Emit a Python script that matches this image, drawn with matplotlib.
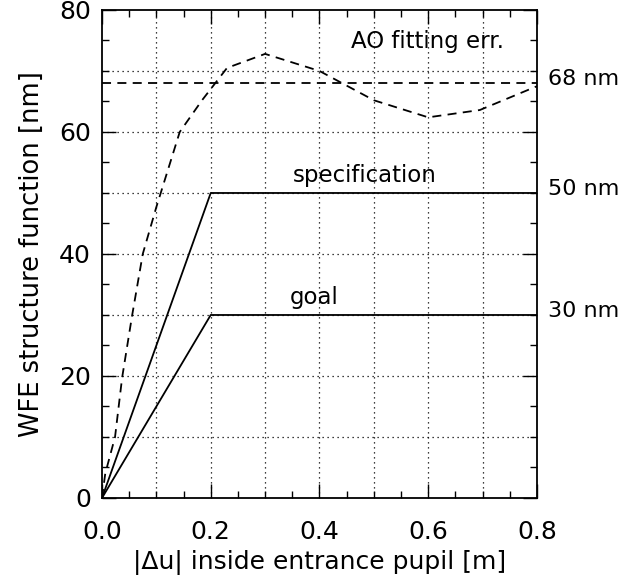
import matplotlib.pyplot as plt
import numpy as np
from matplotlib.ticker import MultipleLocator, FormatStrFormatter

# AO fitting error curve
ao_x = [0.0, 0.006, 0.024, 0.037, 0.055, 0.075, 0.100, 0.143, 0.184, 0.230, 0.300, 0.400, 0.500, 0.600, 0.695, 0.800]
ao_y = [0.0, 4.0, 10.0, 19.7, 29.7, 40.0, 47.7, 60.0, 65.2, 70.5, 72.8, 70.0, 65.2, 62.4, 63.6, 67.5]
ao_level = 68

# specification and goal
spec_x = [0.0, 0.2, 0.8]
spec_y = [0, 50, 50]
goal_x = [0.0, 0.2, 0.8]
goal_y = [0, 30, 30]

grid_x = np.arange(0.1, 0.8, 0.1)
grid_y = np.arange(10, 80, 10)

plt.rcParams['font.family'] = 'DejaVu Sans'
fig = plt.figure(figsize=(6.28, 5.8), dpi=100)
ax = fig.add_axes([0.1624, 0.1414, 0.6926, 0.8414])

for gx in grid_x:
    ax.axvline(gx, color='k', linestyle=(0, (1, 3)), linewidth=0.9, zorder=1)
for gy in grid_y:
    ax.axhline(gy, color='k', linestyle=(0, (1, 3)), linewidth=0.9, zorder=1)

ax.plot(ao_x, ao_y, color='k', linestyle=(0, (5, 3.5)), linewidth=1.3)
ax.axhline(ao_level, color='k', linestyle=(0, (5, 3.5)), linewidth=1.3)
ax.plot(spec_x, spec_y, color='k', linewidth=1.3)
ax.plot(goal_x, goal_y, color='k', linewidth=1.3)

ax.set_xlim(0, 0.8)
ax.set_ylim(0, 80)
ax.xaxis.set_major_locator(MultipleLocator(0.2))
ax.xaxis.set_minor_locator(MultipleLocator(0.05))
ax.xaxis.set_major_formatter(FormatStrFormatter('%.1f'))
ax.yaxis.set_major_locator(MultipleLocator(20))
ax.yaxis.set_minor_locator(MultipleLocator(5))
ax.tick_params(which='both', direction='in', top=True, right=True, labelsize=18)
ax.tick_params(which='major', length=10, width=1)
ax.tick_params(which='minor', length=5, width=1)
ax.tick_params(axis='x', pad=16)
ax.tick_params(axis='y', pad=8)
for s in ax.spines.values():
    s.set_linewidth(1.3)

ax.set_xlabel('|Δu| inside entrance pupil [m]', fontsize=18, labelpad=4)
ax.set_ylabel('WFE structure function [nm]', fontsize=18.5, labelpad=10)

ax.text(0.598, 74.8, 'AO fitting err.', fontsize=16.5, ha='center', va='center')
ax.text(0.484, 52.8, 'specification', fontsize=16.5, ha='center', va='center')
ax.text(0.39, 32.8, 'goal', fontsize=16.5, ha='center', va='center')
for lvl in [68, 50, 30]:
    ax.text(0.82, lvl + 0.7, f'{lvl} nm', fontsize=16, ha='left', va='center', clip_on=False)

plt.savefig('out.png')
